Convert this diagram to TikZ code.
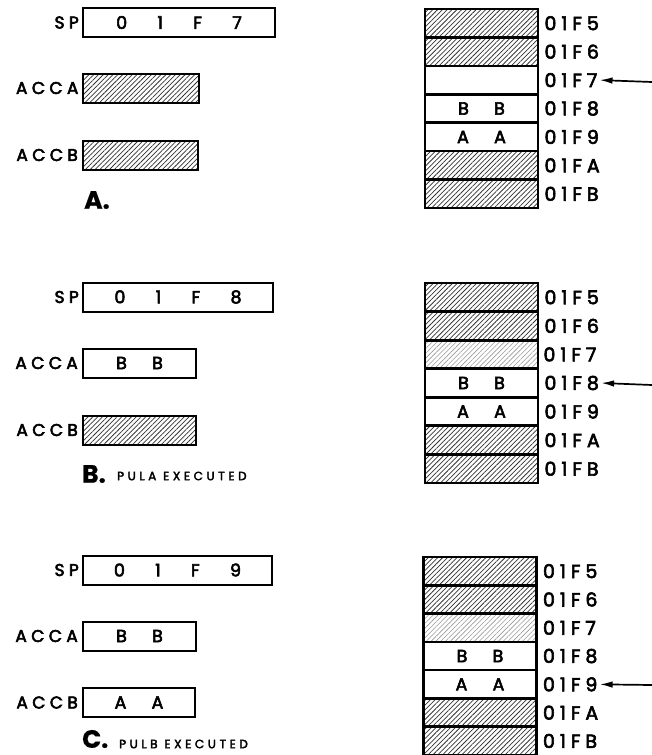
\documentclass[tikz,border=0pt]{standalone}
\usepackage{fontspec}
\setmainfont{Poppins}
\newfontfamily\labfont{Poppins}[LetterSpace=26]
\newfontfamily\capfont{Poppins}[LetterSpace=30]
\newcommand\heavy[1]{\special{pdf:literal direct 2 Tr #1 w}}
\newcommand\unheavy{\special{pdf:literal direct 0 Tr 0.4 w}}
\newcommand\gapA{\hspace{21pt}}
\newcommand\gapB{\hspace{16pt}}
\usetikzlibrary{patterns.meta,arrows.meta}
\tikzset{
  hatch/.style={pattern={Lines[angle=45,distance=3.4pt,line width=0.75pt]}, pattern color=black!80},
  lighthatch/.style={pattern={Lines[angle=45,distance=3.4pt,line width=0.6pt]}, pattern color=black!40},
  plain/.style={fill=white},
  txt/.style={execute at begin node={\heavy{#1}}, execute at end node={\unheavy}},
  reg/.style={draw, line width=2pt, inner sep=0pt, minimum height=29pt, font=\labfont\fontsize{17.5}{17.5}\selectfont, txt=0.55},
  cell/.style={draw, line width=2.6pt, minimum width=113pt, minimum height=28.4pt, inner sep=0pt,
     font=\labfont\fontsize{17.5}{17.5}\selectfont, txt=0.55},
  addr/.style={anchor=west, inner sep=0pt, font=\labfont\fontsize{19}{19}\selectfont, txt=0.6},
  rlab/.style={anchor=east, inner sep=0pt, font=\labfont\fontsize{17}{17}\selectfont, txt=0.55},
  capt/.style={anchor=west, inner sep=0pt, font=\bfseries\fontsize{25}{25}\selectfont, txt=0.2},
  capsub/.style={anchor=west, inner sep=0pt, font=\capfont\fontsize{12}{12}\selectfont, txt=0.35},
  ptr/.style={line width=1.7pt, -{Latex[length=13pt,width=6.5pt]}},
}
\begin{document}
\begin{tikzpicture}[x=1pt,y=-1pt]
\useasboundingbox (0,0) rectangle (652,755);

% ---------- Panel A ----------
\node[reg, minimum width=192pt] (spA) at (179,22.5) {0 \gapA1 \gapA F \gapA7};
\node[rlab] (spAl) at ([xshift=-3pt]spA.west) {SP};
\node[reg, hatch, minimum width=116pt] (caA) at (141,88) {};
\node[rlab] (caAl) at ([xshift=-4pt]caA.west) {ACCA};
\node[reg, hatch, minimum width=115pt] (cbA) at (140.5,155) {};
\node[rlab] (cbAl) at ([xshift=-4pt]cbA.west) {ACCB};
\node[capt] (capA) at (84,200) {A.};

\foreach \i/\st/\txt/\lab in {0/hatch/{}/01F5,1/hatch/{}/01F6,2/plain/{}/01F7,3/plain/{B \gapB B}/01F8,4/plain/{A \gapB A}/01F9,5/hatch/{}/01FA,6/hatch/{}/01FB}{
  \node[cell,\st] (sa\i) at (481.5,{9+28.43*(\i+0.5)}) {\txt};
  \node[addr] (la\i) at ([xshift=5pt]sa\i.east) {\lab};
}
\coordinate (pA) at (652,82);
\draw[ptr] (pA) -- ([xshift=2pt]la2.east);

% ---------- Panel B ----------
\node[reg, minimum width=190pt] (spB) at (178,297) {0 \gapA1 \gapA F \gapA8};
\node[rlab] (spBl) at ([xshift=-3pt]spB.west) {SP};
\node[reg, minimum width=113pt] (caB) at (139.5,363) {B \gapB B};
\node[rlab] (caBl) at ([xshift=-4pt]caB.west) {ACCA};
\node[reg, hatch, minimum width=113pt] (cbB) at (139.5,430) {};
\node[rlab] (cbBl) at ([xshift=-4pt]cbB.west) {ACCB};
\node[capt] (capB) at (82,474) {B.};
\node[capsub] (capBs) at (117,476) {PULA EXECUTED};

\foreach \i/\st/\txt/\lab in {0/hatch/{}/01F5,1/hatch/{}/01F6,2/lighthatch/{}/01F7,3/plain/{B \gapB B}/01F8,4/plain/{A \gapB A}/01F9,5/hatch/{}/01FA,6/hatch/{}/01FB}{
  \node[cell,\st] (sb\i) at (481.5,{283+28.57*(\i+0.5)}) {\txt};
  \node[addr] (lb\i) at ([xshift=5pt]sb\i.east) {\lab};
}
\coordinate (pB) at (652,385);
\draw[ptr] (pB) -- ([xshift=2pt]lb3.east);

% ---------- Panel C ----------
\node[reg, minimum width=189pt] (spC) at (177.5,570) {0 \gapA1 \gapA F \gapA9};
\node[rlab] (spCl) at ([xshift=-3pt]spC.west) {SP};
\node[reg, minimum width=113pt] (caC) at (139.5,636) {B \gapB B};
\node[rlab] (caCl) at ([xshift=-4pt]caC.west) {ACCA};
\node[reg, minimum width=112pt] (cbC) at (139,702.5) {A \gapB A};
\node[rlab] (cbCl) at ([xshift=-4pt]cbC.west) {ACCB};
\node[capt] (capC) at (82,739) {C.};
\node[capsub] (capCs) at (119,744) {PULB EXECUTED};

\foreach \i/\st/\txt/\lab in {0/hatch/{}/01F5,1/hatch/{}/01F6,2/lighthatch/{}/01F7,3/plain/{B \gapB B}/01F8,4/plain/{A \gapB A}/01F9,5/hatch/{}/01FA,6/hatch/{}/01FB}{
  \node[cell,\st] (sc\i) at (480,{557+28.3*(\i+0.5)}) {\txt};
  \node[addr] (lc\i) at ([xshift=5pt]sc\i.east) {\lab};
}
\coordinate (pC) at (652,685);
\draw[ptr] (pC) -- ([xshift=2pt]lc4.east);
\end{tikzpicture}
\end{document}
